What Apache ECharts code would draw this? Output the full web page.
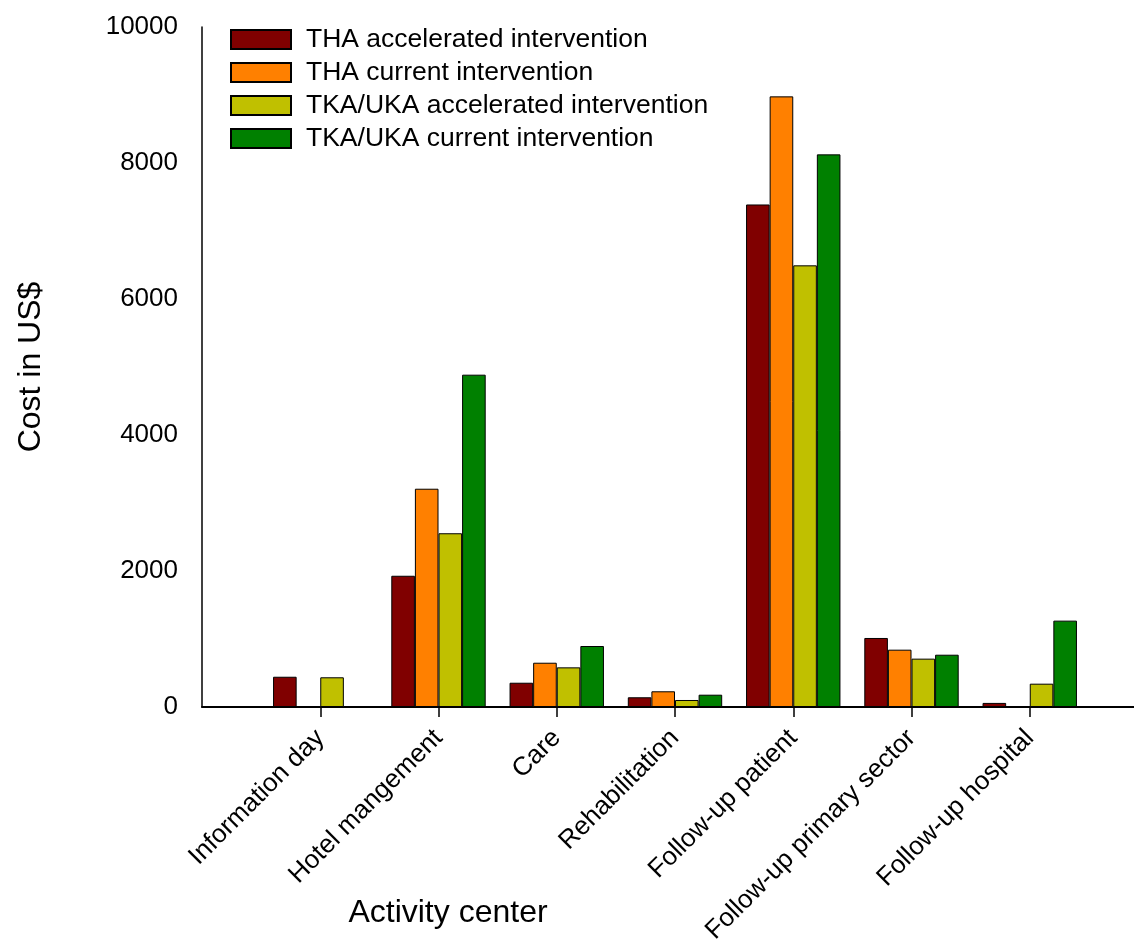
<!DOCTYPE html>
<html>
<head>
<meta charset="utf-8">
<script src="https://cdn.jsdelivr.net/npm/echarts@6/dist/echarts.min.js"></script>
<style>
  html, body { margin: 0; padding: 0; background: #fff; }
  #main { width: 1134px; height: 940px; }
</style>
</head>
<body>
<div id="main"></div>
<script>
// empty slots at both ends so the axis runs past the first / last group
const categories = ['', 'Information day', 'Hotel mangement', 'Care', 'Rehabilitation',
  'Follow-up patient', 'Follow-up primary sector', 'Follow-up hospital', ''];
const thaAccelerated = ['-', 445, 1930, 357, 143, 7390, 1015, 60, '-'];
const thaCurrent = ['-', '-', 3210, 651, 231, 8980, 843, '-', '-'];
const tkaAccelerated = ['-', 437, 2555, 583, 103, 6495, 711, 343, '-'];
const tkaCurrent = ['-', '-', 4887, 897, 181, 8127, 769, 1270, '-'];
const yTicks = [0, 2000, 4000, 6000, 8000, 10000];

const font = 'Liberation Sans, Arial, sans-serif';

function barSeries(name, data, color) {
  return {
    name: name,
    type: 'bar',
    data: data,
    barWidth: 23.6,
    barGap: '0%',
    itemStyle: { color: color, borderColor: '#000', borderWidth: 1 }
  };
}

let chart = echarts.init(document.getElementById('main'));
chart.setOption({
  animation: false,
  textStyle: { fontFamily: font, color: '#000' },
  grid: { left: 202, top: 27, bottom: 233, right: -14, outerBoundsMode: 'none', containLabel: false },
  legend: {
    orient: 'vertical',
    left: 230,
    top: 26,
    padding: 0,
    icon: 'rect',
    itemWidth: 60,
    itemHeight: 19,
    itemGap: 6,
    textStyle: { fontSize: 26.5, fontFamily: font, color: '#000', padding: [0, 0, 0, 10] },
    data: ['THA accelerated intervention', 'THA current intervention',
      'TKA/UKA accelerated intervention', 'TKA/UKA current intervention']
  },
  xAxis: {
    type: 'category',
    data: categories,
    boundaryGap: false,
    axisLine: { lineStyle: { color: '#000', width: 2 } },
    axisTick: {
      length: 10,
      lineStyle: { color: '#000', width: 1.5 },
      interval: function (idx, val) { return val !== ''; }
    },
    axisLabel: {
      interval: 0,
      rotate: 45,
      margin: 27,
      fontSize: 26,
      fontFamily: font,
      color: '#000'
    }
  },
  yAxis: {
    type: 'value',
    min: yTicks[0],
    max: yTicks[yTicks.length - 1],
    interval: 2000,
    axisLine: { show: true, lineStyle: { color: '#000', width: 1.5 } },
    axisTick: { show: false },
    splitLine: { show: false },
    axisLabel: {
      margin: 24, fontSize: 26, fontFamily: font, color: '#000',
      formatter: function (v) { return String(v); }
    }
  },
  graphic: [
    {
      type: 'text',
      x: 448, y: 913,
      style: { text: 'Activity center', font: '32px ' + font, fill: '#000', align: 'center', verticalAlign: 'middle' }
    },
    {
      type: 'text',
      x: 31, y: 367,
      rotation: Math.PI / 2,
      style: { text: 'Cost in US$', font: '32px ' + font, fill: '#000', align: 'center', verticalAlign: 'middle' }
    }
  ],
  series: [
    barSeries('THA accelerated intervention', thaAccelerated, '#800000'),
    barSeries('THA current intervention', thaCurrent, '#FF8000'),
    barSeries('TKA/UKA accelerated intervention', tkaAccelerated, '#C0C000'),
    barSeries('TKA/UKA current intervention', tkaCurrent, '#008000')
  ]
});
</script>
</body>
</html>
